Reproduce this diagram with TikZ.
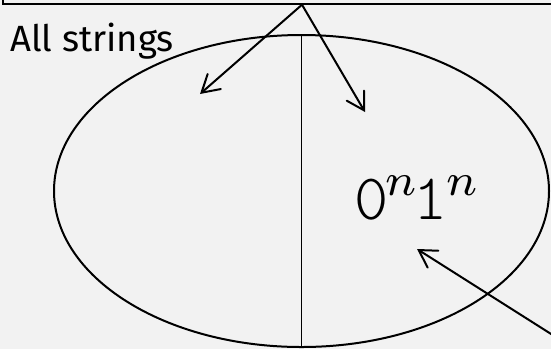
\documentclass[tikz,border=0pt]{standalone}
\usepackage{fontspec}
\usepackage{tikz}
\usetikzlibrary{
  arrows.meta,
  positioning,
  shapes.geometric
}
\newfontfamily\labelfont{Fira Sans}
\newfontfamily\digitfont{Latin Modern Mono Light}
\definecolor{slidebg}{RGB}{242,242,242}
\definecolor{slideink}{RGB}{0,0,0}
\tikzset{
  setBox/.style={
    rectangle,
    draw=slideink,
    line width=2pt,
    minimum width=598pt,
    minimum height=30pt,
    anchor=south
  },
  setRegion/.style={
    ellipse,
    draw=slideink,
    line width=2pt,
    minimum width=495pt,
    minimum height=312pt,
    inner sep=0pt
  },
  setDivider/.style={
    draw=slideink,
    line width=1pt
  },
  setArrow/.style={
    -{Straight Barb[length=17pt,width=20pt,line cap=round]},
    line width=2pt,
    line cap=round,
    draw=slideink
  }
}

\begin{document}
\begin{tikzpicture}[x=1pt,y=-1pt]
  \useasboundingbox (0,0) rectangle (551,349);
  \fill[slidebg] (0,0) rectangle (551,349);
  \clip (0,0) rectangle (551,349);

  \node[setBox] (box) at (302,4.7) {};

  \node[setRegion] (strings) at (301.5,191) {};

  \node[anchor=base west, inner sep=0pt] (allstr) at (10,51)
    {\fontsize{36.5}{40}\selectfont\labelfont All strings};

  \node[anchor=base west, inner sep=0pt, scale=6.5] (lang) at (353,219)
    {\digitfont 0\kern-0.6pt$^n$\kern-1pt 1\kern-0.3pt$^n$};

  \coordinate (leftend) at (200,94);
  \coordinate (rightend) at (365,112);
  \coordinate (langend) at (417,249);
  \coordinate (outside) at (600,365);

  \draw[setDivider] (strings.north) -- (strings.south);
  \draw[setArrow] (box.south) -- (leftend);
  \draw[setArrow] (box.south) -- (rightend);
  \draw[setArrow] (outside) -- (langend);
\end{tikzpicture}
\end{document}
